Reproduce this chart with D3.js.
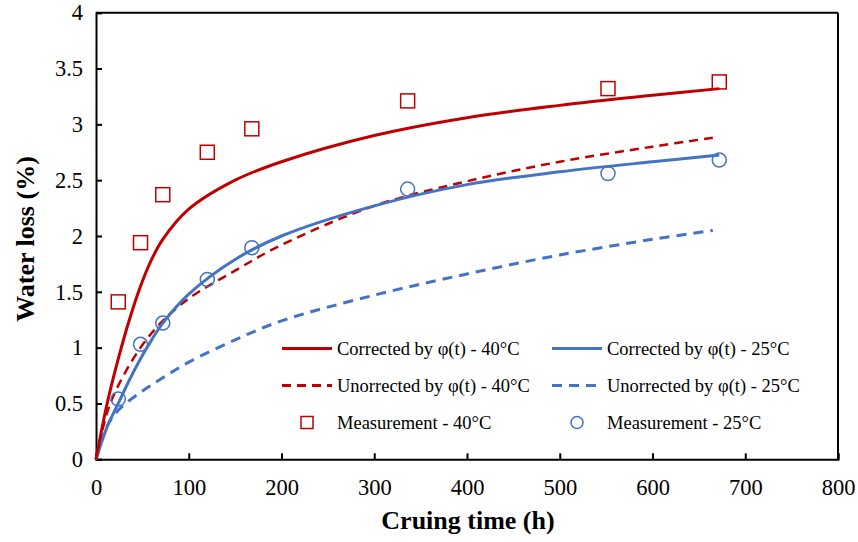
<!DOCTYPE html>
<html>
<head>
<meta charset="utf-8">
<script src="https://cdn.jsdelivr.net/npm/d3@7"></script>
<style>
  body { margin: 0; background: #fff; }
  svg { display: block; }
  svg text { font-family: "Liberation Serif", "Times New Roman", Tinos, serif; }
</style>
</head>
<body>
<svg id="chart" width="858" height="542"></svg>
<script>
// measured points (h, %)
const measTime = [24, 48, 72, 120, 168, 336, 552, 672];
const meas40 = [1.41, 1.94, 2.37, 2.75, 2.96, 3.21, 3.32, 3.38];
const meas25 = [0.54, 1.03, 1.22, 1.61, 1.895, 2.42, 2.56, 2.68];

// model curves
const corrTime = [0, 12, 24, 36, 48, 60, 72, 100, 150, 200, 300, 400, 500, 600, 672];
const corr40 = [0, 0.5, 0.9, 1.25, 1.55, 1.79, 1.97, 2.24, 2.5, 2.665, 2.9, 3.06, 3.17, 3.26, 3.32];
const corr25 = [0, 0.29, 0.5, 0.71, 0.9, 1.07, 1.22, 1.48, 1.79, 2.0, 2.27, 2.46, 2.575, 2.665, 2.725];

const uncTime = [0, 12, 24, 48, 72, 100, 150, 200, 300, 400, 500, 600, 665];
const unc40 = [0, 0.42, 0.66, 1.0, 1.24, 1.44, 1.69, 1.92, 2.27, 2.49, 2.665, 2.8, 2.88];
const unc25 = [0, 0.3, 0.44, 0.6, 0.73, 0.87, 1.07, 1.24, 1.47, 1.66, 1.83, 1.97, 2.05];

const xTicks = [0, 100, 200, 300, 400, 500, 600, 700, 800];
const yTicks = [0, 0.5, 1, 1.5, 2, 2.5, 3, 3.5, 4];

const red = "#C00000";
const blue = "#4472C4";
const serif = "'Liberation Serif', 'Times New Roman', Tinos, serif";

const svg = d3.select("#chart");
const margin = {top: 12.7, right: 20, bottom: 82.7, left: 96};
const width = 858 - margin.left - margin.right;
const height = 542 - margin.top - margin.bottom;

const x = d3.scaleLinear().domain([0, 800]).range([0, width]);
const y = d3.scaleLinear().domain([0, 4]).range([height, 0]);

const g = svg.append("g").attr("transform", `translate(${margin.left},${margin.top})`);

// axes, ticks pointing inward
const xAxis = g.append("g")
    .attr("transform", `translate(0,${height})`)
    .call(d3.axisBottom(x).tickValues(xTicks).tickSize(-6).tickPadding(20).tickFormat(d3.format("d")));
const yAxis = g.append("g")
    .call(d3.axisLeft(y).tickValues(yTicks).tickSize(-6).tickPadding(13).tickFormat(d => d));

[xAxis, yAxis].forEach(a => {
    a.attr("font-family", serif);
    a.select(".domain").attr("stroke", "#000").attr("stroke-width", 2);
    a.selectAll(".tick line").attr("stroke", "#000").attr("stroke-width", 2);
    a.selectAll(".tick text")
        .attr("font-size", 22.5)
        .attr("fill", "#000");
});

// top and right frame
g.append("line").attr("x1", 0).attr("x2", width).attr("y1", 0).attr("y2", 0)
    .attr("stroke", "#000").attr("stroke-width", 2);
g.append("line").attr("x1", width).attr("x2", width).attr("y1", 0).attr("y2", height)
    .attr("stroke", "#000").attr("stroke-width", 2);

// lines
const line = d3.line()
    .x(d => x(d[0]))
    .y(d => y(d[1]))
    .curve(d3.curveCatmullRom.alpha(0.5));

const series = [
    {t: uncTime, v: unc25, color: blue, dash: "10,7", w: 3},
    {t: uncTime, v: unc40, color: red, dash: "9,6", w: 2.5},
    {t: corrTime, v: corr25, color: blue, dash: null, w: 3},
    {t: corrTime, v: corr40, color: red, dash: null, w: 3}
];

series.forEach(s => {
    g.append("path")
        .datum(s.t.map((t, i) => [t, s.v[i]]))
        .attr("fill", "none")
        .attr("stroke", s.color)
        .attr("stroke-width", s.w)
        .attr("stroke-dasharray", s.dash)
        .attr("d", line);
});

// markers
g.selectAll(".sq")
    .data(measTime.map((t, i) => [t, meas40[i]]))
    .enter().append("rect")
    .attr("class", "sq")
    .attr("x", d => x(d[0]) - 7)
    .attr("y", d => y(d[1]) - 7)
    .attr("width", 14)
    .attr("height", 14)
    .attr("fill", "none")
    .attr("stroke", red)
    .attr("stroke-width", 1.5);

g.selectAll(".ci")
    .data(measTime.map((t, i) => [t, meas25[i]]))
    .enter().append("circle")
    .attr("class", "ci")
    .attr("cx", d => x(d[0]))
    .attr("cy", d => y(d[1]))
    .attr("r", 7)
    .attr("fill", "none")
    .attr("stroke", blue)
    .attr("stroke-width", 1.5);

// legend
const legendItems = [
    {label: "Corrected by φ(t) - 40°C", color: red, type: "line", dash: null, col: 0, row: 0},
    {label: "Corrected by φ(t) - 25°C", color: blue, type: "line", dash: null, col: 1, row: 0},
    {label: "Unorrected by φ(t) - 40°C", color: red, type: "line", dash: "9,6", col: 0, row: 1},
    {label: "Unorrected by φ(t) - 25°C", color: blue, type: "line", dash: "10,7", col: 1, row: 1},
    {label: "Measurement - 40°C", color: red, type: "square", col: 0, row: 2},
    {label: "Measurement - 25°C", color: blue, type: "circle", col: 1, row: 2}
];

const legend = svg.append("g").attr("font-family", serif);
legendItems.forEach(it => {
    const lx = 282 + it.col * 270;
    const ly = 348.5 + it.row * 37;
    const item = legend.append("g").attr("transform", `translate(${lx},${ly})`);
    if (it.type === "line") {
        item.append("line")
            .attr("x1", 0).attr("x2", 50).attr("y1", 0).attr("y2", 0)
            .attr("stroke", it.color).attr("stroke-width", 3)
            .attr("stroke-dasharray", it.dash);
    } else if (it.type === "square") {
        item.append("rect").attr("x", 19).attr("y", -6).attr("width", 12).attr("height", 12)
            .attr("fill", "none").attr("stroke", it.color).attr("stroke-width", 1.5);
    } else {
        item.append("circle").attr("cx", 25).attr("cy", 0).attr("r", 6)
            .attr("fill", "none").attr("stroke", it.color).attr("stroke-width", 1.5);
    }
    item.append("text")
        .attr("x", 55)
        .attr("y", 6.5)
        .attr("font-size", 18.5)
        .attr("fill", "#000")
        .text(it.label);
});

// axis titles
svg.append("text")
    .attr("x", 468)
    .attr("y", 529)
    .attr("text-anchor", "middle")
    .attr("font-family", serif)
    .attr("font-size", 26)
    .attr("font-weight", "bold")
    .text("Cruing time (h)");

svg.append("text")
    .attr("transform", "translate(34,239) rotate(-90)")
    .attr("text-anchor", "middle")
    .attr("font-family", serif)
    .attr("font-size", 26)
    .attr("font-weight", "bold")
    .text("Water loss (%)");
</script>
</body>
</html>
